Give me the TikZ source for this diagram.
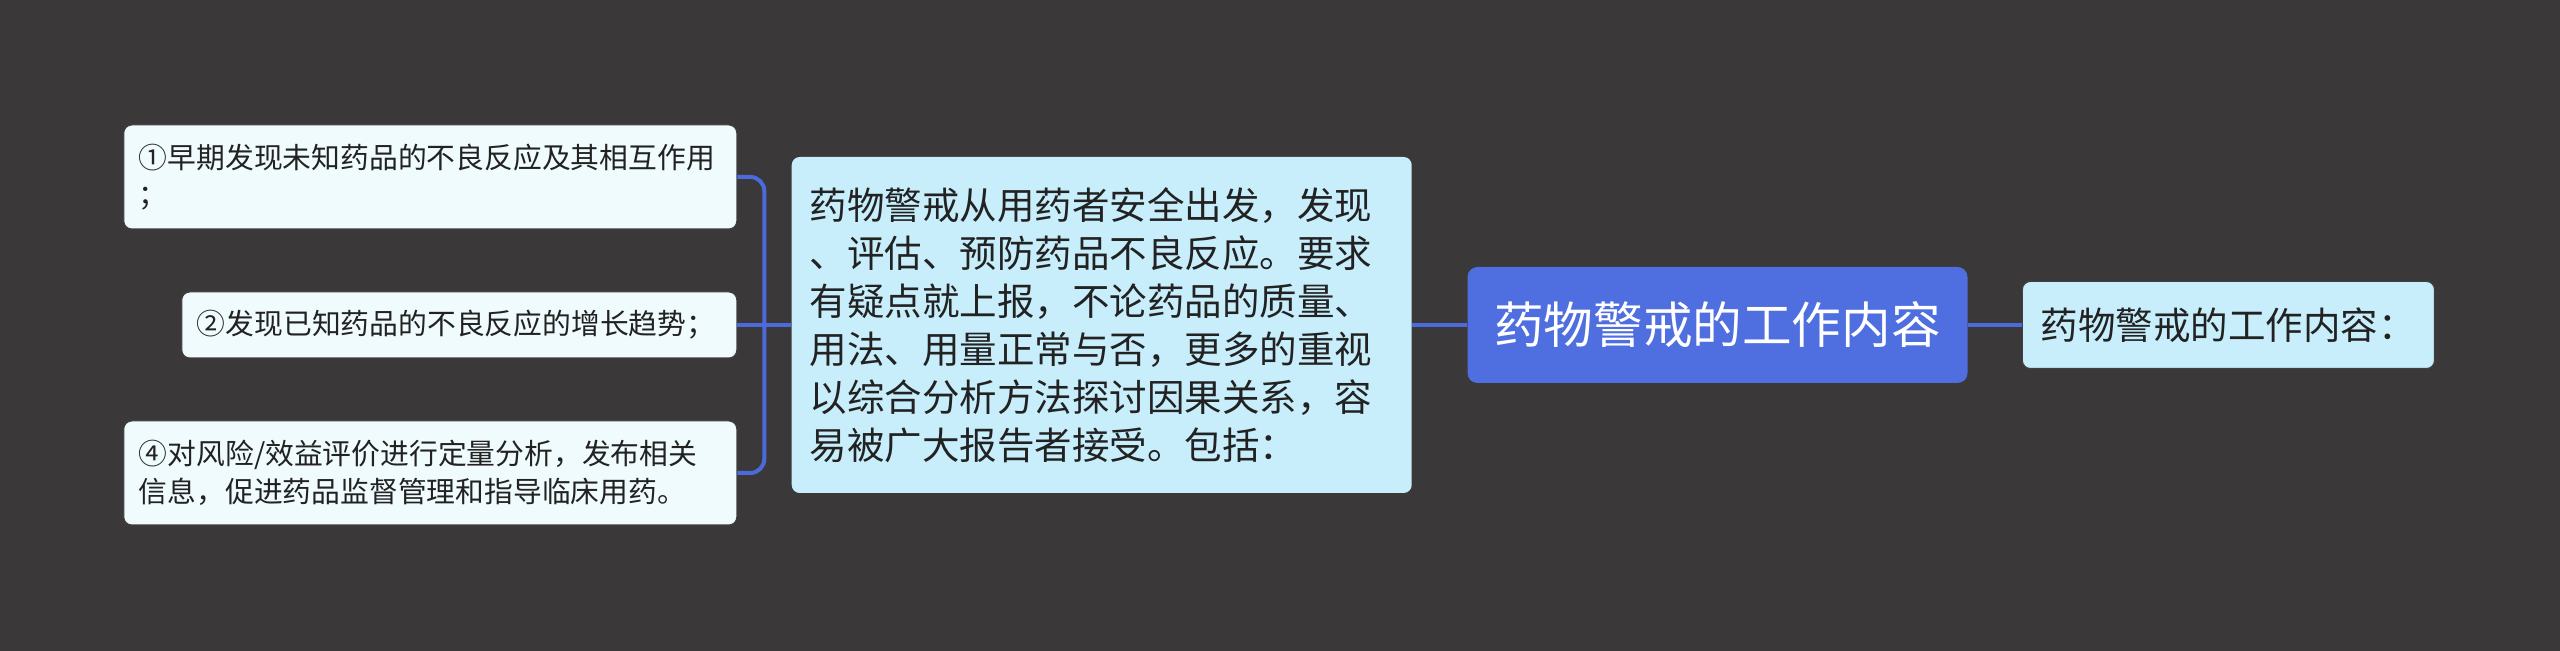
\documentclass[tikz,border=0pt]{standalone}
\usepackage{fontspec}
\newfontfamily\cjk{Noto Sans CJK SC}
\usetikzlibrary{positioning,calc}
\definecolor{bgGray}{HTML}{3A3839}
\definecolor{leafFill}{HTML}{F0FBFD}
\definecolor{midFill}{HTML}{C8EEFC}
\definecolor{rootFill}{HTML}{4F6FE0}
\definecolor{linkBlue}{HTML}{4B6ADB}
\definecolor{txtDark}{HTML}{222222}
\tikzstyle{recNode} = [rectangle, rounded corners=4pt, text=txtDark, inner ysep=0pt]
\tikzstyle{leafNode} = [recNode, fill=leafFill, draw=black!75, line width=0.5pt, inner xsep=7.5pt, align=left, font=\cjk\fontsize{14.4pt}{18.75pt}\selectfont]
\tikzstyle{midNode} = [recNode, fill=midFill, inner xsep=9pt, text width=292pt, minimum height=168pt, align=left, font=\cjk\fontsize{18.75pt}{24pt}\selectfont]
\tikzstyle{rootNode} = [recNode, rounded corners=5pt, fill=rootFill, text=white, minimum width=250pt, minimum height=58pt, font=\cjk\fontsize{24.8pt}{30pt}\selectfont]
\tikzstyle{tipNode} = [recNode, fill=midFill, draw=black!75, line width=0.5pt, minimum width=206pt, minimum height=43.5pt, font=\cjk\fontsize{18.75pt}{24pt}\selectfont]
\tikzstyle{link} = [line width=2pt, draw=linkBlue]

\begin{document}
\begin{tikzpicture}[x=0.5pt, y=-0.5pt]
        \fill [bgGray] (0,0) rectangle (2560,651);
        \useasboundingbox (0,0) rectangle (2560,651);

        \node (root) [rootNode] at (1717.5,325) {药物警戒的工作内容};
        \node (tip) [tipNode, right=27pt of root] {药物警戒的工作内容：};
        \node (mid) [midNode, left=27.5pt of root]
        {药物警戒从用药者安全出发，发现\\、评估、预防药品不良反应。要求\\有疑点就上报，不论药品的质量、\\用法、用量正常与否，更多的重视\\以综合分析方法探讨因果关系，容\\易被广大报告者接受。包括：};
        \node (leafA) [leafNode, left=27pt of mid, yshift=74pt, text width=291.5pt, minimum height=52pt]
        {①早期发现未知药品的不良反应及其相互作用\\；};
        \node (leafB) [leafNode, left=27pt of mid, text width=262.5pt, minimum height=33pt]
        {②发现已知药品的不良反应的增长趋势；};
        \node (leafC) [leafNode, left=27pt of mid, yshift=-74pt, text width=291.5pt, minimum height=52pt]
        {④对风险/效益评价进行定量分析，发布相关\\信息，促进药品监督管理和指导临床用药。};

        \coordinate (fork) at ($(leafB.east)!0.5!(mid.west)$);
        \draw [link, rounded corners=7pt] (leafA.east) -| (fork) |- (leafC.east);
        \draw [link] (leafB.east) -- (mid.west);
        \draw [link] (mid) -- (root);
        \draw [link] (root) -- (tip);
\end{tikzpicture}
\end{document}
